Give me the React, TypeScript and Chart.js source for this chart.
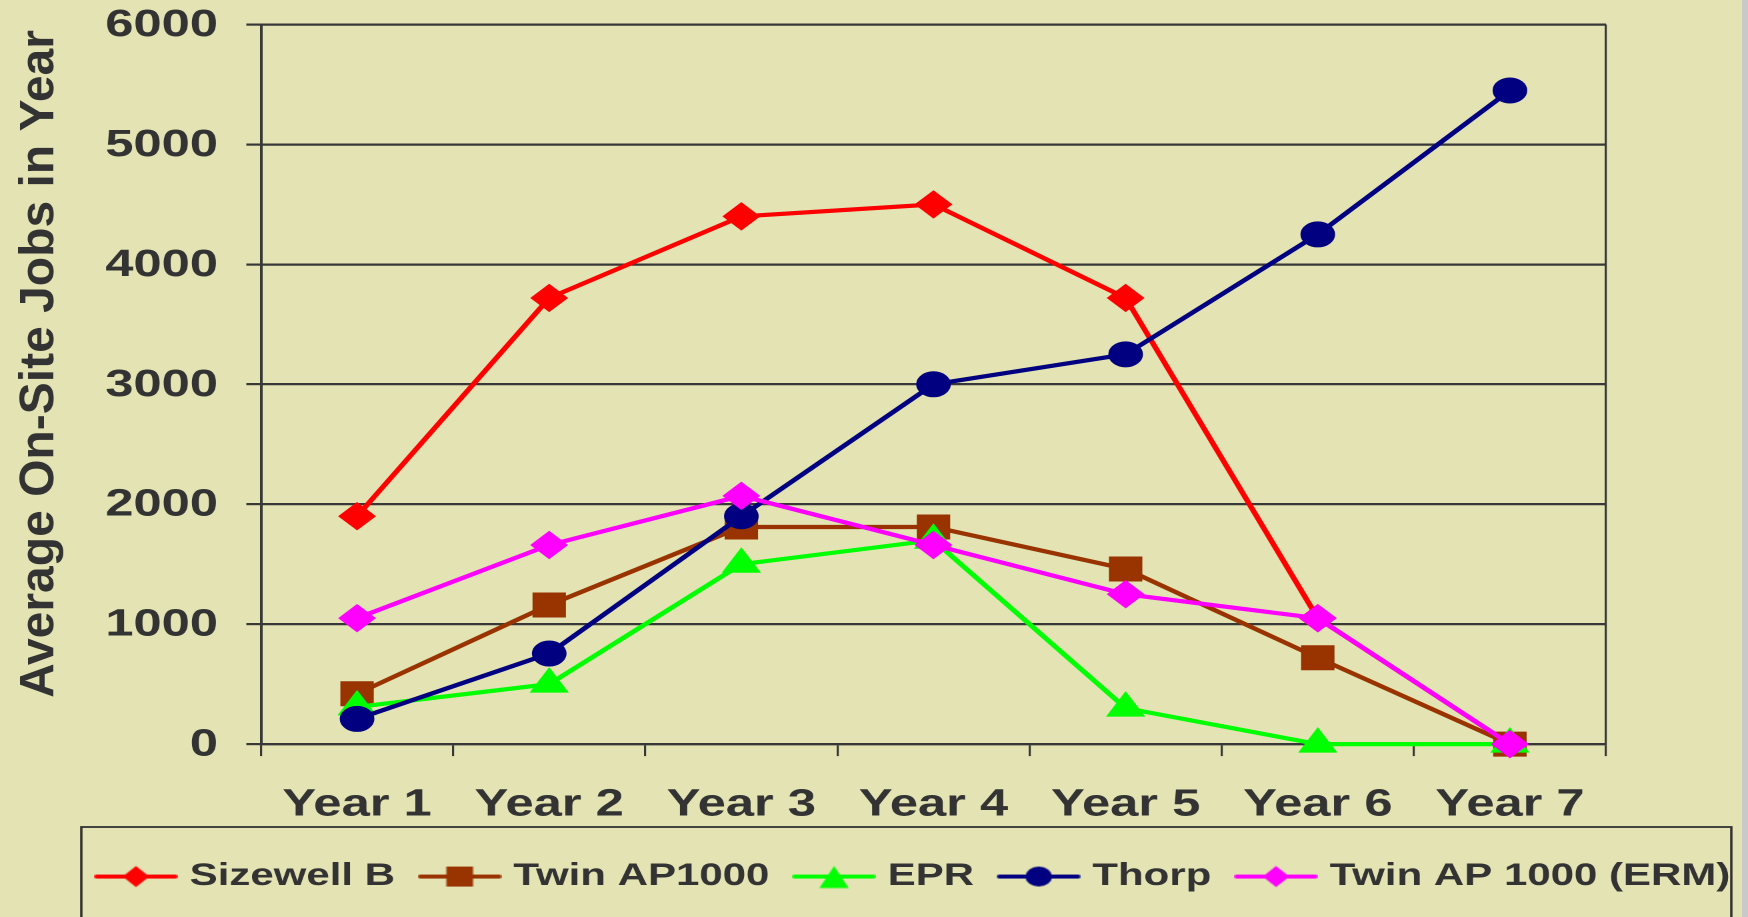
import React, { useEffect, useRef } from 'react';
import { Chart, registerables } from 'chart.js';

Chart.register(...registerables);

// ---------------- data ----------------
const categories = ['Year 1', 'Year 2', 'Year 3', 'Year 4', 'Year 5', 'Year 6', 'Year 7'];
const sizewellB = [1900, 3720, 4400, 4500, 3720, 1050, 0];
const twinAP1000 = [420, 1160, 1810, 1810, 1460, 720, 0];
const epr = [310, 500, 1500, 1700, 300, 0, 0];
const thorp = [210, 755, 1900, 3000, 3250, 4250, 5450];
const twinAP1000ERM = [1050, 1660, 2070, 1660, 1250, 1050, 0];

const seriesNames = ['Sizewell B', 'Twin AP1000', 'EPR', 'Thorp', 'Twin AP 1000 (ERM)'];
const seriesColors = ['#FF0000', '#993300', '#00FF00', '#000080', '#FF00FF'];
const seriesShapes = ['rectRot', 'rect', 'triangle', 'circle', 'rectRot'];
const seriesRadius = [13.5, 17, 16, 12.5, 13.5];

const yMin = 0;
const yMax = 6000;
const yStep = 1000;
const yTitle = 'Average On-Site Jobs in Year';

// ---------------- style ----------------
const BG = '#E3E3B3';
const INK = '#333333';
const GRID = '#383838';
const FONT = '"Liberation Sans", Arial, sans-serif';
const W_INT = 1311; // internal width, stretched to 1748 by CSS
const H = 917;

function makeSwatch(color: string, shape: string): HTMLCanvasElement {
  const c = document.createElement('canvas');
  c.width = 63;
  c.height = 26;
  const g = c.getContext('2d')!;
  const cy = 13;
  const cx = 31.5;
  g.strokeStyle = color;
  g.lineWidth = 3.8;
  g.lineCap = 'round';
  g.beginPath();
  g.moveTo(2, cy);
  g.lineTo(61, cy);
  g.stroke();
  g.fillStyle = color;
  g.beginPath();
  if (shape === 'rectRot') {
    g.moveTo(cx, cy - 10.5);
    g.lineTo(cx + 10, cy);
    g.lineTo(cx, cy + 10.5);
    g.lineTo(cx - 10, cy);
    g.closePath();
  } else if (shape === 'rect') {
    g.rect(cx - 10, cy - 10, 20, 20);
  } else if (shape === 'triangle') {
    g.moveTo(cx, cy - 10.5);
    g.lineTo(cx + 11, cy + 11.5);
    g.lineTo(cx - 11, cy + 11.5);
    g.closePath();
  } else {
    g.arc(cx, cy, 10, 0, Math.PI * 2);
  }
  g.fill();
  return c;
}

const decorPlugin = {
  id: 'decor',
  beforeDraw(chart: any) {
    const { ctx, width, height } = chart;
    ctx.save();
    ctx.fillStyle = BG;
    ctx.fillRect(0, 0, width, height);
    ctx.fillStyle = '#C9C9C9';
    ctx.fillRect(1306.5, 0, width - 1306.5, height);
    ctx.strokeStyle = INK;
    ctx.lineWidth = 1.8;
    ctx.strokeRect(61, 827, 1237.5, 200);
    ctx.restore();
  },
  afterLayout(chart: any) {
    const lg = chart.legend;
    if (lg) {
      lg.left = 53.5;
      lg.right = 1500;
    }
  },
  afterDraw(chart: any) {
    const { ctx } = chart;
    ctx.save();
    ctx.translate(39.75, 364);
    ctx.scale(0.75, 1);
    ctx.rotate(-Math.PI / 2);
    ctx.font = `bold 48px ${FONT}`;
    ctx.fillStyle = INK;
    ctx.textAlign = 'center';
    ctx.textBaseline = 'alphabetic';
    ctx.fillText(yTitle, 0, 0);
    ctx.restore();
  },
};

export default function App() {
  const canvasRef = useRef<HTMLCanvasElement>(null);

  useEffect(() => {
    document.body.style.margin = '0';
    document.body.style.overflow = 'hidden';
    const canvas = canvasRef.current!;
    const seriesData = [sizewellB, twinAP1000, epr, thorp, twinAP1000ERM];
    const swatches = seriesColors.map((c, i) => makeSwatch(c, seriesShapes[i]));

    const chart = new Chart(canvas, {
      type: 'line',
      data: {
        labels: categories,
        datasets: seriesData.map((d, i) => ({
          label: seriesNames[i],
          data: d,
          borderColor: seriesColors[i],
          backgroundColor: seriesColors[i],
          borderWidth: 4.2,
          tension: 0,
          fill: false,
          pointStyle: seriesShapes[i] as any,
          pointRadius: seriesRadius[i],
          pointBackgroundColor: seriesColors[i],
          pointBorderColor: seriesColors[i],
          pointBorderWidth: 1,
          clip: false as any,
          order: 5 - i,
        })),
      },
      plugins: [decorPlugin],
      options: {
        animation: false,
        responsive: false,
        devicePixelRatio: 2,
        events: [],
        layout: { padding: { left: 0, right: 0, top: 24.5, bottom: 14.7 } },
        plugins: {
          tooltip: { enabled: false },
          title: { display: false },
          legend: {
            display: true,
            position: 'bottom',
            align: 'start',
            labels: {
              usePointStyle: true,
              pointStyleWidth: 49,
              padding: 24,
              color: INK,
              font: { family: FONT, weight: 'bold', size: 31.5 },
              generateLabels: (ch: any) =>
                ch.data.datasets.map((ds: any, i: number) => ({
                  text: ds.label,
                  pointStyle: swatches[i],
                  fillStyle: seriesColors[i],
                  strokeStyle: seriesColors[i],
                  lineWidth: 0,
                  hidden: false,
                  datasetIndex: i,
                  fontColor: INK,
                })),
            },
          },
        },
        scales: {
          x: {
            type: 'category',
            offset: true,
            afterFit: (s: any) => {
              s.height = 92.7;
            },
            grid: {
              display: true,
              offset: true,
              drawOnChartArea: true,
              drawTicks: true,
              tickLength: 12,
              tickWidth: 1.6,
              tickColor: GRID,
              lineWidth: 1.6,
              color: (c: any) => (c.type === 'tick' ? 'rgba(0,0,0,0)' : GRID),
            },
            border: { display: true, color: GRID, width: 2.3 },
            ticks: {
              autoSkip: false,
              maxRotation: 0,
              minRotation: 0,
              padding: 26,
              color: INK,
              font: { family: FONT, weight: 'bold', size: 38 },
            },
          },
          y: {
            type: 'linear',
            position: 'left',
            min: yMin,
            max: yMax,
            afterFit: (s: any) => {
              s.width = 195.75;
              s.paddingTop = 0;
              s.paddingBottom = 0;
            },
            grid: {
              display: true,
              drawOnChartArea: true,
              drawTicks: true,
              tickLength: 11,
              tickColor: GRID,
              color: GRID,
              lineWidth: 2.2,
            },
            border: { display: true, color: GRID, width: 2 },
            title: { display: false },
            ticks: {
              stepSize: yStep,
              padding: 21.25,
              labelOffset: 1,
              color: INK,
              font: { family: FONT, weight: 'bold', size: 38 },
              callback: (v: any) => String(v),
            },
          },
          y2: {
            type: 'linear',
            position: 'right',
            display: true,
            afterFit: (s: any) => {
              s.width = 106.5;
              s.paddingTop = 0;
              s.paddingBottom = 0;
            },
            grid: { display: false },
            border: { display: false },
            ticks: { display: false },
          },
        },
      } as any,
    });

    return () => {
      chart.destroy();
    };
  }, []);

  return (
    <canvas
      ref={canvasRef}
      width={W_INT}
      height={H}
      style={{ display: 'block', width: '1748px', height: '917px' }}
    />
  );
}
